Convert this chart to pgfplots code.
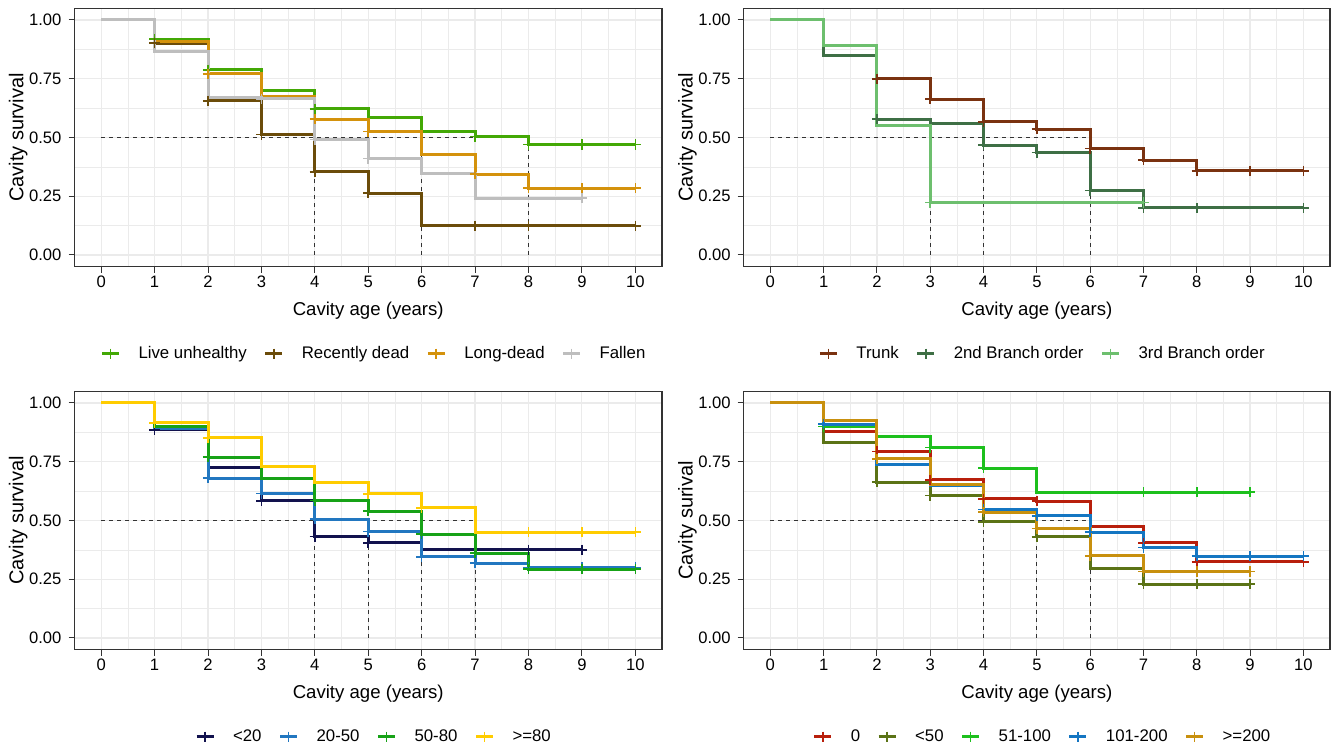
\documentclass[border=0pt]{standalone}
\usepackage{fontspec}
\setmainfont{Liberation Sans}
\usepackage{pgfplots}
\pgfplotsset{compat=1.18}

\definecolor{frame}{HTML}{333333}
\definecolor{gridc}{HTML}{EBEBEB}
% panel A
\definecolor{liveun}{HTML}{43A805}
\definecolor{recdead}{HTML}{6B4C0A}
\definecolor{longdead}{HTML}{D4920C}
\definecolor{fallen}{HTML}{BEBEBE}
% panel B
\definecolor{trunk}{HTML}{7A3210}
\definecolor{branchtwo}{HTML}{3E6F45}
\definecolor{branchthree}{HTML}{6DBF6E}
% panel C
\definecolor{dnavy}{HTML}{12124E}
\definecolor{dblue}{HTML}{2277C0}
\definecolor{dgreen}{HTML}{17A217}
\definecolor{dyellow}{HTML}{FFCC00}
% panel D
\definecolor{hred}{HTML}{B81F0C}
\definecolor{holive}{HTML}{5B7316}
\definecolor{hgreen}{HTML}{1DC01D}
\definecolor{hblue}{HTML}{1476C2}
\definecolor{hgold}{HTML}{C8900E}

\pgfplotsset{
  kmaxis/.style={
    scale only axis, height=129.25pt,
    xmin=-0.5, xmax=10.5, ymin=-0.05, ymax=1.05,
    xtick={0,1,...,10},
    ytick={0,0.25,0.5,0.75,1}, yticklabels={0.00,0.25,0.50,0.75,1.00},
    minor x tick num=1, minor y tick num=1,
    grid=both,
    major grid style={draw=gridc, line width=0.6pt},
    minor grid style={draw=gridc, line width=0.3pt},
    tick pos=left,
    tick align=outside, major tick length=3pt, minor tick length=0pt,
    tick style={draw=frame, line width=0.5pt},
    axis line style={draw=frame, line width=0.6pt},
    /pgf/number format/assume math mode=true,
    ticklabel style={font=\fontsize{8.3}{10}\selectfont},
    xticklabel style={yshift=1.8pt},
    label style={font=\fontsize{9.3}{11}\selectfont},
    xlabel={Cavity age (years)},
    every axis y label/.style={at={(axis description cs:-0.096,0.5)},
      rotate=90, anchor=center},
    legend columns=-1,
    legend style={at={(0.508,-0.337)}, anchor=center, draw=none, fill=none,
      inner sep=0pt, nodes={inner sep=0pt, font=\fontsize{8.4}{10}\selectfont},
      /tikz/every odd column/.append style={column sep=9pt},
      /tikz/every even column/.append style={column sep=8.5pt}},
    legend image code/.code={
      \draw[##1] (0pt,0pt)--(8.5pt,0pt);
      \draw[##1] plot[only marks, mark=+, mark size=2.6pt,
        mark options={solid, line width=0.8pt}] coordinates {(4.25pt,0pt)};},
  },
  kmline/.style={const plot, mark=none, line width=1.5pt},
  kmmark/.style={only marks, mark=+, mark size=2.6pt,
    mark options={line width=0.8pt}, forget plot},
  median/.style={draw=frame, line width=0.4pt, dash pattern=on 2pt off 2pt,
    forget plot},
}

\begin{document}
\begin{tikzpicture}
\path[use as bounding box] (0pt,0pt) rectangle (665.5pt,-374pt);

% ---------- A: tree condition ----------
\begin{axis}[kmaxis, at={(37.25pt,-4.125pt)}, anchor=north west,
  width=293.75pt, ylabel={Cavity survival}]
\addplot[median] coordinates {(0,0.5)(8,0.5)};
\addplot[median] coordinates {(4,0)(4,0.5)};
\addplot[median] coordinates {(6,0)(6,0.5)};
\addplot[median] coordinates {(8,0)(8,0.5)};
\addplot[liveun, kmline] coordinates {(0,1)(1,0.919)(2,0.788)(3,0.699)(4,0.622)(5,0.587)(6,0.525)(7,0.505)(8,0.471)(10,0.471)};
\addlegendentry{Live unhealthy}
\addplot[recdead, kmline] coordinates {(0,1)(1,0.901)(2,0.656)(3,0.512)(4,0.354)(5,0.263)(6,0.124)(10,0.124)};
\addlegendentry{Recently dead}
\addplot[longdead, kmline] coordinates {(0,1)(1,0.908)(2,0.771)(3,0.675)(4,0.578)(5,0.526)(6,0.426)(7,0.344)(8,0.284)(10,0.284)};
\addlegendentry{Long-dead}
\addplot[fallen, kmline] coordinates {(0,1)(1,0.868)(2,0.672)(3,0.665)(4,0.492)(5,0.41)(6,0.348)(7,0.242)(9,0.242)};
\addlegendentry{Fallen}
\addplot[liveun, kmmark] coordinates {(1,0.919)(2,0.788)(4,0.622)(7,0.505)(8,0.471)(9,0.471)(10,0.471)};
\addplot[recdead, kmmark] coordinates {(1,0.901)(2,0.656)(3,0.512)(4,0.354)(5,0.263)(7,0.124)(8,0.124)(10,0.124)};
\addplot[longdead, kmmark] coordinates {(2,0.771)(4,0.578)(5,0.526)(7,0.344)(8,0.284)(9,0.284)(10,0.284)};
\addplot[fallen, kmmark] coordinates {(3,0.665)(4,0.492)(5,0.41)(9,0.242)};
\end{axis}

% ---------- B: position ----------
\begin{axis}[kmaxis, at={(371.85pt,-4.125pt)}, anchor=north west,
  width=293.15pt, ylabel={Cavity survival}]
\addplot[median] coordinates {(0,0.5)(6,0.5)};
\addplot[median] coordinates {(3,0)(3,0.5)};
\addplot[median] coordinates {(4,0)(4,0.5)};
\addplot[median] coordinates {(6,0)(6,0.5)};
\addplot[trunk, kmline] coordinates {(0,1)(1,0.89)(2,0.75)(3,0.663)(4,0.567)(5,0.535)(6,0.453)(7,0.403)(8,0.358)(10,0.358)};
\addlegendentry{Trunk}
\addplot[branchtwo, kmline] coordinates {(0,1)(1,0.847)(2,0.578)(3,0.559)(4,0.467)(5,0.437)(6,0.274)(7,0.2)(10,0.2)};
\addlegendentry{2nd Branch order}
\addplot[branchthree, kmline] coordinates {(0,1)(1,0.89)(2,0.553)(3,0.223)(7,0.223)};
\addlegendentry{3rd Branch order}
\addplot[trunk, kmmark] coordinates {(2,0.75)(3,0.663)(4,0.567)(5,0.535)(6,0.453)(7,0.403)(8,0.358)(9,0.358)(10,0.358)};
\addplot[branchtwo, kmmark] coordinates {(2,0.578)(4,0.467)(5,0.437)(6,0.274)(7,0.2)(8,0.2)(10,0.2)};
\addplot[branchthree, kmmark] coordinates {(3,0.223)(7,0.223)};
\end{axis}

% ---------- C: diameter ----------
\begin{axis}[kmaxis, at={(37.25pt,-195.6pt)}, anchor=north west,
  width=293.75pt, ylabel={Cavity survival}]
\addplot[median] coordinates {(0,0.5)(7,0.5)};
\addplot[median] coordinates {(4,0)(4,0.5)};
\addplot[median] coordinates {(5,0)(5,0.5)};
\addplot[median] coordinates {(6,0)(6,0.5)};
\addplot[median] coordinates {(7,0)(7,0.5)};
\addplot[dnavy, kmline] coordinates {(0,1)(1,0.885)(2,0.725)(3,0.584)(4,0.431)(5,0.405)(6,0.375)(9,0.375)};
\addlegendentry{<20}
\addplot[dblue, kmline] coordinates {(0,1)(1,0.89)(2,0.68)(3,0.615)(4,0.505)(5,0.453)(6,0.345)(7,0.318)(8,0.30)(10,0.30)};
\addlegendentry{20-50}
\addplot[dgreen, kmline] coordinates {(0,1)(1,0.9)(2,0.77)(3,0.677)(4,0.585)(5,0.54)(6,0.442)(7,0.361)(8,0.293)(10,0.293)};
\addlegendentry{50-80}
\addplot[dyellow, kmline] coordinates {(0,1)(1,0.915)(2,0.851)(3,0.731)(4,0.66)(5,0.613)(6,0.554)(7,0.45)(10,0.45)};
\addlegendentry{>=80}
\addplot[dnavy, kmmark] coordinates {(1,0.885)(3,0.584)(4,0.431)(5,0.405)(8,0.375)(9,0.375)};
\addplot[dblue, kmmark] coordinates {(2,0.68)(3,0.615)(4,0.505)(5,0.453)(6,0.345)(7,0.318)(8,0.30)(9,0.30)(10,0.30)};
\addplot[dgreen, kmmark] coordinates {(2,0.77)(4,0.585)(5,0.54)(6,0.442)(7,0.361)(8,0.293)(9,0.293)(10,0.293)};
\addplot[dyellow, kmmark] coordinates {(1,0.915)(2,0.851)(5,0.613)(6,0.554)(8,0.45)(9,0.45)(10,0.45)};
\end{axis}

% ---------- D: height ----------
\begin{axis}[kmaxis, at={(371.85pt,-195.6pt)}, anchor=north west,
  width=293.15pt, ylabel={Cavity surival}]
\addplot[median] coordinates {(0,0.5)(6,0.5)};
\addplot[median] coordinates {(4,0)(4,0.5)};
\addplot[median] coordinates {(5,0)(5,0.5)};
\addplot[median] coordinates {(6,0)(6,0.5)};
\addplot[hred, kmline] coordinates {(0,1)(1,0.88)(2,0.793)(3,0.673)(4,0.592)(5,0.582)(6,0.476)(7,0.405)(8,0.324)(10,0.324)};
\addlegendentry{0}
\addplot[holive, kmline] coordinates {(0,1)(1,0.83)(2,0.663)(3,0.606)(4,0.494)(5,0.43)(6,0.295)(7,0.229)(9,0.229)};
\addlegendentry{<50}
\addplot[hgreen, kmline] coordinates {(0,1)(1,0.9)(2,0.856)(3,0.81)(4,0.722)(5,0.62)(9,0.62)};
\addlegendentry{51-100}
\addplot[hblue, kmline] coordinates {(0,1)(1,0.91)(2,0.74)(3,0.648)(4,0.546)(5,0.52)(6,0.45)(7,0.385)(8,0.348)(10,0.348)};
\addlegendentry{101-200}
\addplot[hgold, kmline] coordinates {(0,1)(1,0.925)(2,0.762)(3,0.655)(4,0.535)(5,0.466)(6,0.35)(7,0.283)(9,0.283)};
\addlegendentry{>=200}
\addplot[hred, kmmark] coordinates {(2,0.793)(3,0.673)(4,0.592)(5,0.582)(7,0.405)(8,0.324)(10,0.324)};
\addplot[holive, kmmark] coordinates {(2,0.663)(3,0.606)(4,0.494)(5,0.43)(7,0.229)(8,0.229)(9,0.229)};
\addplot[hgreen, kmmark] coordinates {(1,0.9)(3,0.81)(4,0.722)(7,0.62)(8,0.62)(9,0.62)};
\addplot[hblue, kmmark] coordinates {(1,0.91)(4,0.546)(5,0.52)(6,0.45)(7,0.385)(8,0.348)(9,0.348)(10,0.348)};
\addplot[hgold, kmmark] coordinates {(2,0.762)(4,0.535)(5,0.466)(6,0.35)(7,0.283)(8,0.283)(9,0.283)};
\end{axis}
\end{tikzpicture}
\end{document}
